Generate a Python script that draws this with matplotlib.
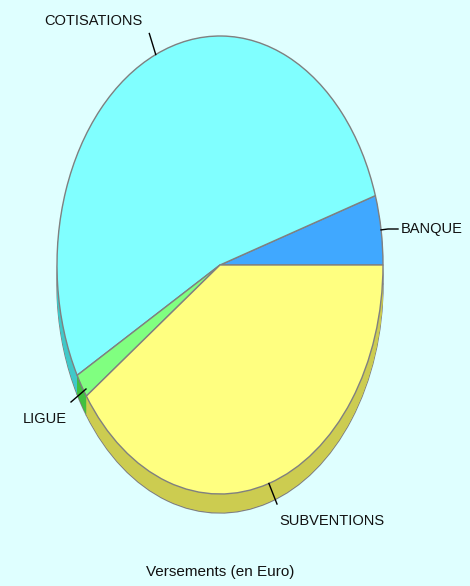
import matplotlib.pyplot as plt
import numpy as np

# Versements (en Euro) - parts of each category
labels = ['BANQUE', 'COTISATIONS', 'LIGUE', 'SUBVENTIONS']
values = [4.9, 53.1, 1.7, 40.3]
top_colors = ['#40A8FF', '#80FFFF', '#80FF80', '#FFFF80']
side_colors = ['#3088CC', '#40C8C8', '#40C040', '#CCCC50']
title = 'Versements (en Euro)'

W, H = 470, 586
CX, CY = 220, 265      # pie centre in pixels
RX, RY = 163, 229      # ellipse radii in pixels
DEPTH = 19 / RY        # thickness of the 3D side, data units


def px(x, y):
    # pixel position -> data coords
    return (x - CX) / RX, (CY - y) / RY


fig = plt.figure(figsize=(W / 100, H / 100), dpi=100, facecolor='#DFFFFF')
ax = fig.add_axes([0, 0, 1, 1])
ax.set_facecolor('#DFFFFF')

# side of the pie: stack of darker layers
for k, dz in enumerate(np.linspace(-DEPTH, 0, 40)):
    wp = dict(linewidth=0)
    if k == 0:
        wp = dict(edgecolor='#808080', linewidth=1)
    ax.pie(values, center=(0, dz), radius=1, startangle=0, counterclock=True,
           colors=side_colors, wedgeprops=wp)

# top face
ax.pie(values, center=(0, 0), radius=1, startangle=0, counterclock=True,
       colors=top_colors, wedgeprops=dict(edgecolor='#808080', linewidth=1))

ax.set_aspect('auto')
ax.set_xlim(-CX / RX, (W - CX) / RX)
ax.set_ylim((CY - H) / RY, CY / RY)
ax.axis('off')

# mid angles of each slice
edges = np.concatenate([[0], np.cumsum(values)]) / np.sum(values) * 360
mids = np.deg2rad((edges[:-1] + edges[1:]) / 2)


def on_edge(i, r=1.0):
    return r * np.cos(mids[i]), r * np.sin(mids[i])


font = dict(family='Liberation Sans', fontsize=10.5, color='#111111')
lc = dict(color='black', linewidth=1)

# BANQUE
x0, y0 = on_edge(0)
x1, y1 = px(388, 229)
x2, y2 = px(398, 229)
ax.plot([x0, x1, x2], [y0, y1, y2], **lc)
ax.text(*px(401, 229), labels[0], ha='left', va='center', **font)

# COTISATIONS
x0, y0 = on_edge(1)
x1, y1 = on_edge(1, 1.1)
ax.plot([x0, x1], [y0, y1], **lc)
ax.text(*px(93, 21), labels[1], ha='center', va='center', **font)

# LIGUE
x0, y0 = px(86, 389)
x1, y1 = px(71, 402)
ax.plot([x0, x1], [y0, y1], **lc)
ax.text(*px(23, 419), labels[2], ha='left', va='center', **font)

# SUBVENTIONS
x0, y0 = on_edge(3)
x1, y1 = px(277, 504)
ax.plot([x0, x1], [y0, y1], **lc)
ax.text(*px(279, 521), labels[3], ha='left', va='center', **font)

ax.text(*px(220, 572), title, ha='center', va='center',
        family='Liberation Sans', fontsize=11, color='#111111')

fig.savefig('out.png', dpi=100, facecolor=fig.get_facecolor())
